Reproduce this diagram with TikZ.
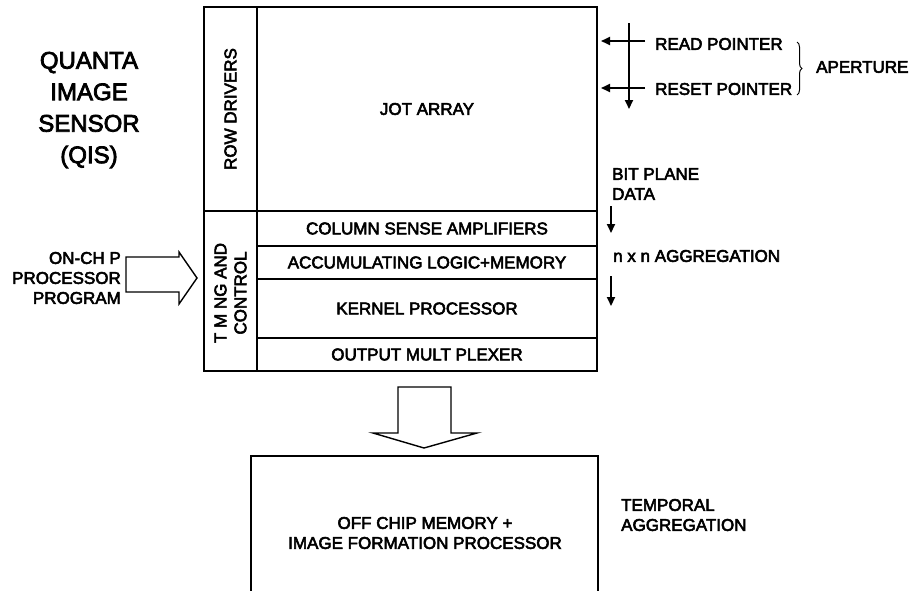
\documentclass[tikz,border=0pt]{standalone}
\usepackage{fontspec}
\setmainfont{Liberation Sans}[BoldFont={Liberation Sans}, BoldFeatures={FakeBold=3.2}]
\usetikzlibrary{arrows.meta,decorations.pathreplacing}
\begin{document}
\begin{tikzpicture}[x=1pt,y=-1pt,
  txt/.style={font=\fontsize{17}{20}\selectfont\bfseries, inner sep=0pt, align=center},
  blk/.style={draw, line width=1.6pt, inner sep=0pt, txt},
  hollow/.style={draw, line width=1.4pt, fill=white, line join=miter},
  arr/.style={line width=2pt, -{Triangle[width=8pt,length=9pt]}}]
\useasboundingbox (0,0) rectangle (910,590);
\clip (0,0) rectangle (910,590);

% main chip blocks
\node[blk, minimum width=53pt, minimum height=204pt] (rd) at (230.5,109) {};
\node[blk, minimum width=340pt, minimum height=204pt] (jot) at (427,109) {JOT ARRAY};
\node[blk, minimum width=53pt, minimum height=160pt] (tc) at (230.5,291) {};
\node[blk, minimum width=340pt, minimum height=35pt] (csa) at (427,228.5) {COLUMN SENSE AMPLIFIERS};
\node[blk, minimum width=340pt, minimum height=33pt] (acc) at (427,262.5) {ACCUMULATING LOGIC+MEMORY};
\node[blk, minimum width=340pt, minimum height=59pt] (kern) at (427,308.5) {KERNEL PROCESSOR};
\node[blk, minimum width=340pt, minimum height=33pt] (omux) at (427,354.5) {OUTPUT MULT PLEXER};
\node[txt, rotate=90] (rdt) at (rd.center) {ROW DRIVERS};
\node[txt, rotate=90] (tct) at ([yshift=-2pt]tc.center) {T M NG AND\\CONTROL};

% title
\node[inner sep=0pt, align=center, font=\fontsize{24}{31.5}\selectfont\bfseries] (qis) at (89,110) {QUANTA\\IMAGE\\SENSOR\\(QIS)};

% on-chip program and hollow right arrow
\node[txt, align=right, anchor=east] (prog) at (121,278) {ON-CH P\\PROCESSOR\\PROGRAM};
\path[hollow] (126,257) -- (179,257) -- (179,252) -- (197,278) -- (179,304) -- (179,292) -- (126,292) -- cycle;

% hollow down arrow
\path[hollow] (398,387) -- (451,387) -- (451,433) -- (477,433) -- (424,448) -- (373,433) -- (398,433) -- cycle;

% bottom block (runs off the page)
\coordinate (bl) at (251,600);
\coordinate (br) at (598,600);
\node[txt] (offchip) at (425,533) {OFF CHIP MEMORY +\\IMAGE FORMATION PROCESSOR};
\draw[line width=1.6pt] (bl) -- (251,456) -- (598,456) -- (br);

% pointers
\coordinate (vt) at (629,23);
\coordinate (vb) at (629,109);
\coordinate (r1) at (645,41);
\coordinate (r1t) at (601,41);
\coordinate (r2) at (645,88);
\coordinate (r2t) at (601,88);
\draw[arr] (vt) -- (vb);
\draw[arr] (r1) -- (r1t);
\draw[arr] (r2) -- (r2t);
\node[txt, anchor=west] (readp) at (655,44) {READ POINTER};
\node[txt, anchor=west] (resetp) at (655,89) {RESET POINTER};
\draw[line width=1pt, decorate, decoration={brace, amplitude=5pt}] (797,42) -- (797,95);
\node[txt, anchor=west] (ap) at (816,67) {APERTURE};

% bit plane data
\node[txt, align=left, anchor=west] (bpd) at (612,184) {BIT PLANE\\DATA};
\coordinate (a1s) at (611,206);
\coordinate (a1e) at (611,233);
\draw[arr] (a1s) -- (a1e);
\node[txt, anchor=west] (nxn) at (613,256) {n x n AGGREGATION};
\coordinate (a2s) at (611,276);
\coordinate (a2e) at (611,306);
\draw[arr] (a2s) -- (a2e);

\node[txt, align=left, anchor=west] (temp) at (621,515) {TEMPORAL\\AGGREGATION};
\end{tikzpicture}
\end{document}
